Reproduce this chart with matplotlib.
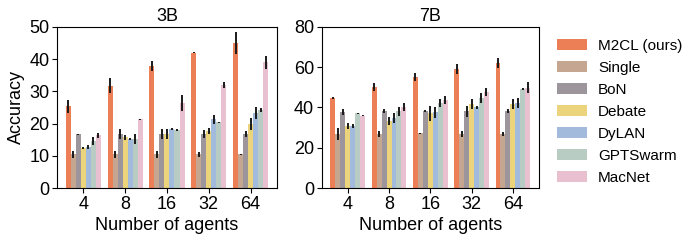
import matplotlib
matplotlib.use("Agg")
import matplotlib.pyplot as plt
import numpy as np

plt.rcParams['font.family'] = ['Liberation Sans', 'DejaVu Sans']

agents = ["4", "8", "16", "32", "64"]
methods = ["M2CL (ours)", "Single", "BoN", "Debate", "DyLAN", "GPTSwarm", "MacNet"]
colors = ["#EC7F56", "#C5A690", "#9C969C", "#EBD47C", "#A2BADB", "#B9CCC4", "#E8C0D0"]

# accuracy, rows = methods, columns = number of agents
acc_3b = [
    [25.3, 31.8, 37.9, 42.0, 45.0],
    [10.4, 10.4, 10.4, 10.4, 10.4],
    [16.7, 16.7, 16.7, 16.7, 16.7],
    [12.3, 15.7, 16.7, 17.7, 19.9],
    [12.8, 15.1, 18.2, 21.3, 23.2],
    [14.7, 15.2, 18.0, 20.4, 24.2],
    [16.4, 21.3, 26.5, 32.0, 39.0],
]
err_3b = [
    [2.0, 2.2, 1.5, 0.1, 3.3],
    [1.0, 1.0, 1.0, 0.7, 0.2],
    [0.2, 1.5, 1.5, 1.2, 0.9],
    [0.3, 0.8, 1.5, 1.0, 1.8],
    [0.6, 0.3, 0.3, 1.5, 1.8],
    [1.2, 1.5, 0.2, 0.2, 0.5],
    [0.8, 0.2, 2.5, 1.0, 2.0],
]
acc_7b = [
    [44.9, 50.0, 55.1, 58.9, 62.1],
    [26.8, 26.8, 27.2, 26.8, 26.8],
    [37.9, 38.0, 38.0, 38.0, 38.0],
    [30.6, 33.1, 37.0, 41.5, 41.5],
    [30.9, 34.7, 37.5, 40.0, 42.1],
    [37.0, 38.0, 42.1, 44.9, 49.2],
    [35.9, 40.0, 43.5, 47.7, 49.9],
]
err_7b = [
    [0.5, 2.0, 2.0, 2.5, 2.5],
    [3.0, 1.5, 0.3, 1.5, 1.0],
    [1.5, 1.0, 0.5, 2.5, 1.0],
    [1.5, 2.0, 3.5, 2.5, 2.5],
    [1.0, 2.5, 2.5, 0.8, 2.5],
    [0.3, 2.0, 2.0, 2.5, 0.3],
    [0.2, 2.0, 2.0, 2.0, 2.5],
]


def draw(ax, acc, err, title, ymax, yticks):
    x = np.arange(len(agents))
    n = len(methods)
    w = 0.84 / n
    for i in range(n):
        pos = x - 0.42 + w * (i + 0.5)
        ax.bar(pos, acc[i], width=w, color=colors[i], label=methods[i])
        ax.errorbar(pos, acc[i], yerr=err[i], fmt="none", ecolor="#1a1a1a",
                    elinewidth=1.4, capsize=0)
    ax.set_xticks(x)
    ax.set_xticklabels(agents)
    ax.set_xlim(-0.63, 4.63)
    ax.set_ylim(0, ymax)
    ax.set_yticks(yticks)
    ax.set_title(title, fontsize=13, pad=4)
    ax.set_xlabel("Number of agents", fontsize=13, labelpad=3)
    ax.tick_params(labelsize=13, length=3.5, pad=2)


fig = plt.figure(figsize=(6.98, 2.43), dpi=100)
ax1 = fig.add_axes([0.0817, 0.2263, 0.315, 0.663])
ax2 = fig.add_axes([0.461, 0.2263, 0.311, 0.663])

draw(ax1, acc_3b, err_3b, "3B", 50, [0, 10, 20, 30, 40, 50])
draw(ax2, acc_7b, err_7b, "7B", 80, [0, 20, 40, 60, 80])
ax1.set_ylabel("Accuracy", fontsize=13, labelpad=3)

handles, labels = ax1.get_legend_handles_labels()
fig.legend(handles, labels, loc="upper left", bbox_to_anchor=(0.789, 0.865),
           frameon=False, fontsize=11, handlelength=2.0, handleheight=0.7,
           labelspacing=0.52, handletextpad=0.7, borderaxespad=0)

fig.savefig("out.png", dpi=100)
